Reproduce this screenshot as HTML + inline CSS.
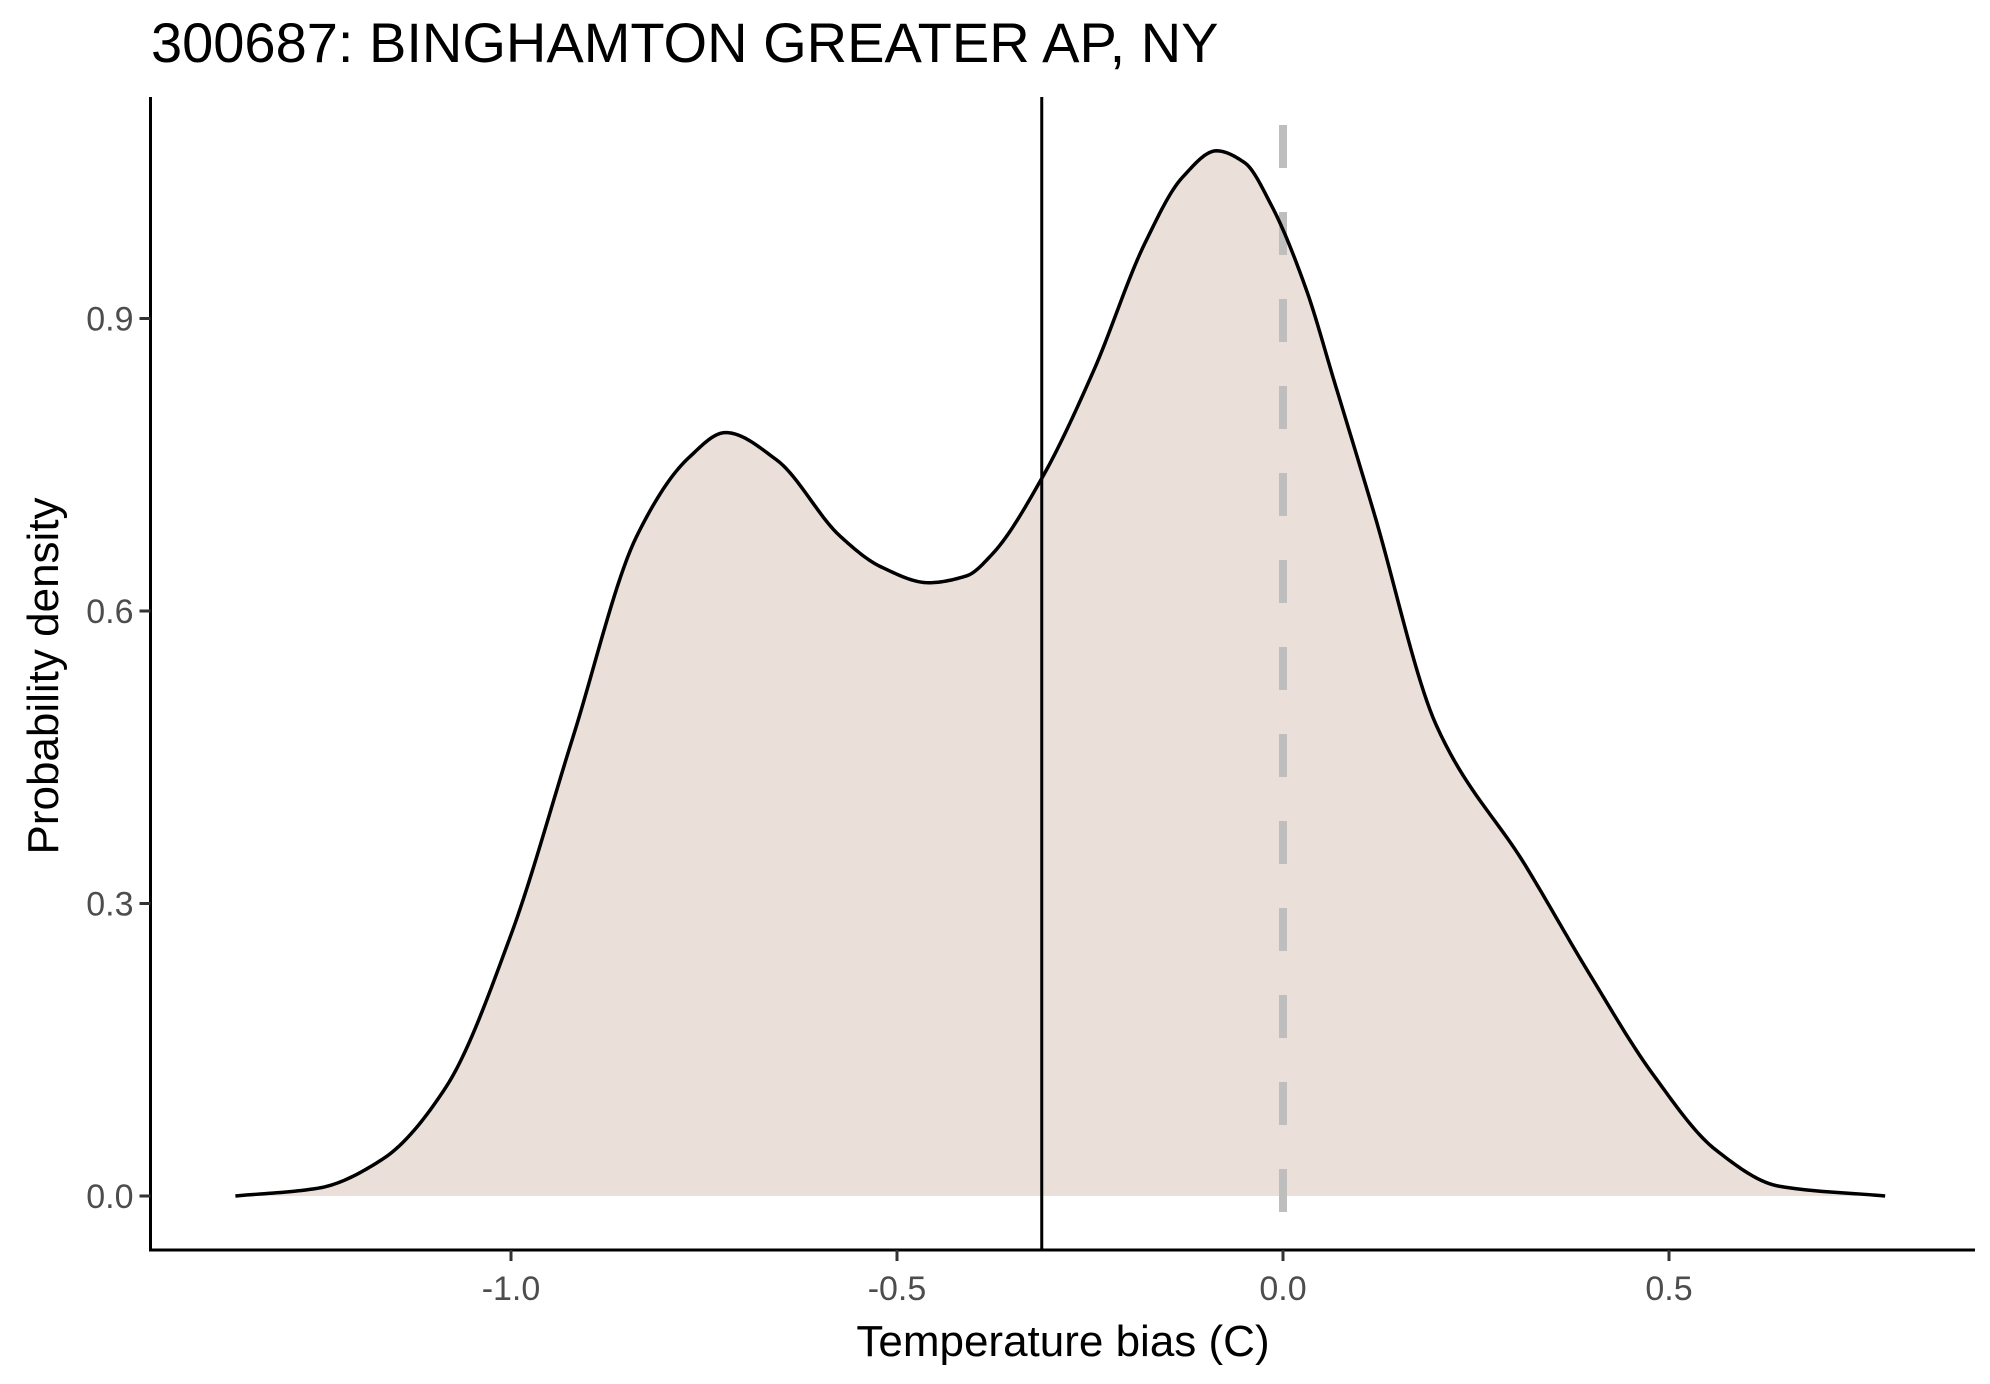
<!DOCTYPE html>
<html><head><meta charset="utf-8"><style>
html,body{margin:0;padding:0;background:#fff;}
svg{display:block;font-family:"Liberation Sans",sans-serif;}
</style></head><body>
<svg id="chart" width="1990" height="1384" viewBox="0 0 1990 1384">
<text x="151" y="62" font-size="56" fill="#000">300687: BINGHAMTON GREATER AP, NY</text>
<g id="plot"></g>
<text x="1063" y="1356" font-size="44" text-anchor="middle" fill="#000">Temperature bias (C)</text>
<text transform="translate(58,676) rotate(-90)" font-size="44" text-anchor="middle" fill="#000">Probability density</text>
</svg>
<script>
const xs=[-1.357,-1.25,-1.166,-1.084,-1.0,-0.92,-0.837,-0.77,-0.722,-0.656,-0.574,-0.52,-0.459,-0.41,-0.377,-0.3125,-0.245,-0.179,-0.13,-0.086,-0.05,-0.015,0.03,0.067,0.117,0.199,0.314,0.396,0.479,0.561,0.643,0.78];
const dens=[0,0.008,0.038,0.112,0.268,0.47,0.677,0.757,0.783,0.755,0.677,0.645,0.629,0.636,0.658,0.736,0.847,0.977,1.045,1.072,1.06,1.016,0.93,0.834,0.703,0.482,0.339,0.229,0.125,0.047,0.010,0.0];
const xTicks=[-1.0,-0.5,0.0,0.5];
const xTickLabels=["-1.0","-0.5","0.0","0.5"];
const yTicks=[0,0.3,0.6,0.9];
const yTickLabels=["0.0","0.3","0.6","0.9"];
const meanLine=-0.3125;
const refLine=0.0;

const NS="http://www.w3.org/2000/svg";
const g=document.getElementById('plot');
const X=v=>1283+v*772;
const Y=v=>1196-v*975;
const L=150.5,R=1975,T=97,B=1250;
function mk(t,a){const e=document.createElementNS(NS,t);for(const k in a)e.setAttribute(k,a[k]);g.appendChild(e);return e;}
// monotone cubic interpolation in data space
const n=xs.length,h=[],s=[],m=[];
for(let i=0;i<n-1;i++){h.push(xs[i+1]-xs[i]);s.push((dens[i+1]-dens[i])/h[i]);}
m[0]=s[0];m[n-1]=s[n-2];
for(let i=1;i<n-1;i++){
 if(s[i-1]*s[i]<=0)m[i]=0;
 else{const w1=2*h[i]+h[i-1],w2=h[i]+2*h[i-1];m[i]=(w1+w2)/(w1/s[i-1]+w2/s[i]);}
}
const pts=[];
for(let i=0;i<n-1;i++){
 for(let k=0;k<20;k++){const t=k/20,t2=t*t,t3=t2*t;
  const v=(2*t3-3*t2+1)*dens[i]+(t3-2*t2+t)*h[i]*m[i]+(-2*t3+3*t2)*dens[i+1]+(t3-t2)*h[i]*m[i+1];
  pts.push([X(xs[i]+t*h[i]),Y(v)]);}
}
pts.push([X(xs[n-1]),Y(dens[n-1])]);
const d="M"+pts.map(p=>p[0].toFixed(2)+","+p[1].toFixed(2)).join(" L");
const area=mk('path',{d:d+" L"+X(xs[n-1])+","+Y(0)+" L"+X(xs[0])+","+Y(0)+"Z",fill:"#EBDFDA",stroke:"none"});


const ref=mk('line',{x1:X(refLine),x2:X(refLine),y1:T+28,y2:B,stroke:"#BEBEBE","stroke-width":8,"stroke-dasharray":"43,44"});


const line=mk('path',{d:d,fill:"none",stroke:"#000","stroke-width":3.5,"stroke-linejoin":"round"});


const mean=mk('line',{x1:X(meanLine),x2:X(meanLine),y1:T,y2:B,stroke:"#000","stroke-width":3});


const ax=mk('line',{x1:L,x2:L,y1:T,y2:B+1.5,stroke:"#000","stroke-width":3});


const bx=mk('line',{x1:L-1.5,x2:R,y1:B,y2:B,stroke:"#000","stroke-width":3});


xTicks.forEach((v,i)=>{
 const t=mk('line',{x1:X(v),x2:X(v),y1:B,y2:B+11,stroke:"#333","stroke-width":3});
 
 
 const l=mk('text',{x:X(v),y:1300,"font-size":34,fill:"#4D4D4D","text-anchor":"middle"});
 l.textContent=xTickLabels[i];
 
 
});
yTicks.forEach((v,i)=>{
 const t=mk('line',{x1:L-11,x2:L,y1:Y(v),y2:Y(v),stroke:"#333","stroke-width":3});
 
 
 const l=mk('text',{x:L-17,y:Y(v)+12,"font-size":34,fill:"#4D4D4D","text-anchor":"end"});
 l.textContent=yTickLabels[i];
 
 
});
</script>
</body></html>
